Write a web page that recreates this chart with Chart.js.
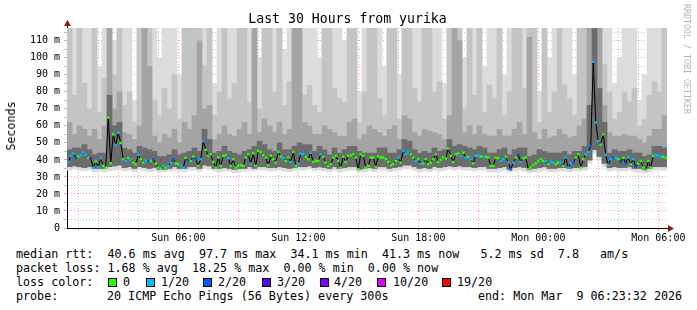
<!DOCTYPE html>
<html>
<head>
<meta charset="utf-8">
<script src="https://cdn.jsdelivr.net/npm/chart.js@4/dist/chart.umd.min.js"></script>
<style>
  body { margin: 0; background: #fff; }
  #wrap { position: relative; width: 697px; height: 310px; font-family: "DejaVu Sans Mono", monospace; color: #000; overflow: hidden; }
  canvas { position: absolute; left: 0; top: 0; }
  .t { position: absolute; white-space: pre; font-size: 11.7px; line-height: 14px; }
  .box { position: absolute; width: 9px; height: 9px; box-sizing: border-box; border: 1px solid #000; top: 278px; }
  #title { position: absolute; left: -1px; top: 11px; width: 697px; text-align: center; font-size: 13.2px; line-height: 16px; white-space: pre; }
  #ylab { position: absolute; left: 11px; top: 126px; font-size: 11.7px; line-height: 14px; transform: translate(-50%, -50%) rotate(-90deg); white-space: pre; }
  #brand { position: absolute; left: 682px; top: 4px; writing-mode: vertical-rl; font-size: 8.3px; line-height: 10px; color: #b4b4b4; white-space: pre; }
</style>
</head>
<body>
<div id="wrap">
  <canvas id="smoke" width="697" height="245"></canvas>
  <div id="title">Last 30 Hours from yurika</div>
  <div id="ylab">Seconds</div>
  <div id="brand">RRDTOOL / TOBI OETIKER</div>
  <div class="t" style="left:16px;top:247px">median rtt:  40.6 ms avg  97.7 ms max  34.1 ms min  41.3 ms now   5.2 ms sd  7.8   am/s</div>
  <div class="t" style="left:16px;top:261px">packet loss: 1.68 % avg  18.25 % max  0.00 % min  0.00 % now</div>
  <div class="t" style="left:16px;top:275px">loss color:</div>
  <div id="lossLegend"></div>
  <div class="t" style="left:16px;top:289px">probe:</div>
  <div class="t" style="left:107px;top:289px">20 ICMP Echo Pings (56 Bytes) every 300s</div>
  <div class="t" style="left:478px;top:289px">end: Mon Mar  9 06:23:32 2026</div>
</div>
<script>
// hours since Sun 00:00; smoke bins are 15 min, median samples 7.5 min
const xMin = 26 / 60;
const xMax = 30 + 26 / 60;
const binHours = 0.25;

// median rtt (ms), two samples per smoke bin
const medianRtt = [
  38.8, 42.4, 43.7, 41, 42, 42.7, 44.3, 43, 41.2, 40.8, 35.5, 39, 35.7, 41, 36.5, 35.5, 64.9, 38, 55, 48.8,
  56, 50, 40.4, 39.4, 41, 40.2, 38.4, 37.5, 43, 40.4, 38.4, 39.6, 39.4, 39.4, 40.4, 37.8, 35.5, 34.9, 36.5, 35.5,
  36.5, 38.4, 40.4, 38, 37.5, 36.5, 35.5, 41.2, 39.4, 39.4, 42, 40.4, 36.5, 40.4, 51, 45.9, 42.4, 43.3, 38.8, 35.5,
  41.4, 36.5, 42.4, 42.7, 41, 36.5, 40.4, 35.5, 36.5, 36.9, 36.5, 41.4, 43.3, 37.8, 43.9, 36.5, 45.3, 44.7, 42.9, 41.4,
  36.9, 42.4, 40.4, 38.4, 44.7, 42, 41, 39.4, 41.4, 38.8, 44.7, 36.5, 37.8, 43.7, 43.3, 41.8, 40.4, 44.3, 38.8, 39.4,
  39.4, 43.3, 41.8, 38.4, 36.5, 37.5, 41.4, 42.4, 39.4, 35.5, 41.8, 38.8, 42.4, 42.7, 43.3, 41.4, 34.5, 43.3, 42.4, 35.5,
  36.5, 41.4, 41.4, 35.9, 42, 41.4, 41.4, 40.4, 38.8, 36.9, 37.5, 39.4, 41.2, 38.4, 45.3, 43.7, 44.7, 43.3, 41.4, 39.4,
  40.4, 37.5, 38, 40.4, 37.5, 38.4, 40.4, 43.3, 38.8, 40, 41.4, 40.8, 46.7, 42.4, 38.8, 43.3, 43.7, 42.4, 44.3, 41.4,
  41.8, 40.4, 38, 42.4, 42.4, 42, 41.8, 41.8, 41.4, 36.5, 36.5, 41.2, 41, 39.4, 40.4, 41.8, 38.4, 34.5, 38.4, 41.4,
  43.3, 38.8, 41, 41.4, 34.5, 35.5, 36.9, 38, 39.4, 40.4, 39.4, 39.4, 37.5, 38.8, 38.4, 37.5, 38.4, 38.4, 36.5, 41.4,
  35.5, 38, 38.4, 41.4, 43.3, 35.5, 40.4, 43.3, 44.7, 48.2, 97.7, 62, 51, 49, 55, 43, 37.1, 40.4, 41.2, 41.2,
  40.4, 38.4, 41.2, 38, 41.4, 37.5, 40.4, 35.9, 37.8, 39.4, 35.5, 34.1, 39.4, 35.5, 42.4, 42.7, 42.7, 42, 41.8, 41.3
];

// lost pings out of 20 for each median sample
const lossCount = [
  1, 1, 1, 2, 0, 1, 1, 1, 0, 3, 1, 0, 1, 1, 0, 0, 0, 0, 0, 1,
  1, 0, 0, 1, 0, 1, 0, 0, 1, 0, 0, 1, 2, 0, 2, 0, 0, 0, 1, 0,
  1, 1, 2, 0, 0, 1, 1, 0, 2, 0, 0, 2, 0, 1, 1, 0, 0, 0, 0, 0,
  0, 0, 0, 0, 1, 0, 0, 0, 0, 0, 0, 0, 0, 1, 0, 0, 0, 0, 0, 0,
  0, 0, 0, 0, 0, 0, 1, 0, 0, 1, 0, 0, 1, 1, 1, 0, 0, 1, 0, 0,
  0, 1, 0, 0, 0, 0, 0, 0, 0, 0, 0, 0, 0, 0, 0, 0, 0, 0, 0, 0,
  0, 0, 0, 0, 0, 0, 0, 0, 0, 0, 0, 0, 1, 0, 1, 1, 1, 0, 0, 1,
  0, 1, 0, 0, 0, 0, 0, 0, 0, 0, 0, 0, 0, 0, 0, 0, 0, 1, 0, 1,
  0, 1, 0, 1, 1, 0, 1, 0, 0, 0, 0, 0, 0, 1, 1, 0, 1, 2, 1, 0,
  2, 1, 0, 0, 0, 0, 0, 0, 0, 0, 0, 1, 0, 1, 1, 0, 0, 1, 0, 1,
  1, 1, 2, 0, 0, 0, 0, 1, 1, 2, 1, 1, 1, 0, 0, 1, 1, 1, 2, 1,
  0, 2, 0, 2, 1, 0, 1, 2, 0, 0, 0, 0, 0, 0, 0, 1, 1, 1, 0, 0
];

// smoke per 15 min bin: lowest ping, lower quartile, then the tops of the grey layers
const lowPing = [
  34, 34.5, 34, 33.5, 34, 33, 33.5, 33, 33.5, 34,
  34.5, 33.5, 34, 33, 34, 33.5, 33, 33.5, 33, 33,
  33.5, 34, 33.5, 33, 34, 34, 33.5, 35, 34.5, 33.5,
  33, 33.5, 33.5, 32.5, 33, 33.5, 34, 33.5, 34, 34,
  33.5, 33.5, 34, 33.5, 33, 33.5, 34, 34, 34.5, 33.5,
  34, 33.5, 33, 34, 33, 33.5, 34, 34, 33, 33,
  33.5, 33, 34, 34, 33, 33.5, 34, 35, 35, 34,
  33, 33.5, 33, 34, 33.5, 34, 34.5, 34, 34.5, 34,
  34, 33.5, 34, 34, 33, 33, 33.5, 34, 33, 33.5,
  34, 33.5, 32.5, 33, 33.5, 34, 33, 33, 33.5, 33.5,
  33, 33.5, 33.5, 34, 38, 44, 40, 36, 33.5, 34,
  33.5, 33.5, 34, 33, 33, 32.5, 33, 34, 34, 34
];
const lowQuart = [
  36, 36.5, 36, 35.5, 36, 35, 35, 35, 36, 36.5,
  37, 35.5, 36, 35, 36, 35.5, 35, 35.5, 34.5, 34.5,
  35, 36, 35, 35, 36, 36, 35, 37, 36.5, 35,
  35, 35.5, 35, 34.5, 35, 35, 36, 35, 36, 36,
  35.5, 35.5, 36, 35.5, 35, 35.5, 36, 36, 36.5, 35.5,
  36, 35.5, 35, 36, 35, 35.5, 36, 36, 34.5, 35,
  35.5, 35, 36, 36, 35, 35.5, 36, 37, 37, 36,
  35, 35.5, 35, 36, 35.5, 36, 36.5, 36, 36.5, 36,
  36, 35.5, 36, 36, 35, 35, 35.5, 36, 34.5, 35.5,
  36, 35.5, 34.5, 35, 35.5, 36, 35, 35, 35.5, 35.5,
  35, 35.5, 35.5, 36, 40, 46, 42, 38, 35.5, 36,
  35.5, 35.5, 36, 35, 35, 34.5, 35, 36, 36, 36
];
const smokeTop = [
  120, 120, 120, 120, 120, 120, 95, 120, 120, 110,
  120, 120, 120, 75, 120, 120, 120, 120, 100, 120,
  120, 120, 90, 120, 120, 120, 120, 120, 120, 85,
  120, 120, 120, 120, 120, 120, 120, 120, 100, 120,
  120, 120, 120, 105, 120, 120, 120, 120, 120, 120,
  100, 120, 120, 120, 120, 110, 120, 120, 80, 120,
  120, 120, 120, 95, 120, 120, 90, 120, 120, 120,
  120, 120, 120, 120, 120, 85, 120, 120, 120, 100,
  120, 120, 120, 95, 120, 120, 120, 90, 120, 120,
  120, 120, 120, 120, 80, 120, 100, 120, 120, 120,
  120, 90, 120, 120, 120, 120, 120, 120, 120, 85,
  100, 120, 120, 120, 75, 90, 120, 120, 120, 120
];
const smokeUpper = [
  120, 78, 120, 85, 70, 120, 68, 88, 120, 90,
  120, 72, 80, 62, 120, 120, 120, 75, 66, 82,
  70, 90, 64, 120, 120, 120, 120, 95, 120, 66,
  80, 120, 76, 85, 120, 120, 74, 120, 70, 120,
  120, 80, 120, 72, 86, 120, 120, 78, 84, 72,
  68, 120, 120, 82, 76, 74, 120, 120, 62, 80,
  120, 120, 76, 66, 120, 120, 64, 120, 120, 82,
  74, 120, 120, 80, 86, 64, 120, 120, 120, 70,
  120, 78, 120, 68, 84, 76, 120, 66, 80, 120,
  120, 82, 120, 120, 62, 120, 68, 80, 120, 84,
  76, 66, 120, 120, 120, 120, 120, 96, 80, 64,
  68, 80, 74, 82, 60, 64, 78, 86, 80, 120
];
const smokeInner = [
  62, 55, 60, 58, 54, 58, 52, 60, 120, 70,
  80, 56, 55, 52, 60, 120, 95, 54, 50, 55,
  53, 58, 50, 62, 58, 66, 110, 70, 72, 52,
  55, 60, 55, 54, 58, 62, 55, 118, 56, 64,
  60, 56, 62, 55, 58, 120, 120, 62, 60, 55,
  55, 60, 58, 56, 54, 54, 62, 64, 52, 55,
  60, 58, 56, 54, 58, 60, 52, 66, 64, 56,
  54, 58, 57, 56, 55, 52, 66, 120, 110, 56,
  60, 55, 60, 55, 54, 54, 58, 54, 54, 58,
  62, 55, 112, 56, 52, 58, 53, 54, 58, 55,
  53, 54, 60, 64, 120, 120, 120, 72, 56, 54,
  54, 55, 54, 54, 52, 50, 54, 58, 58, 66
];
const smokeCore = [
  46, 47, 47, 49, 46, 43, 44, 44, 78, 60,
  62, 47, 46, 44, 48, 47, 46, 45, 42, 42,
  43, 46, 43, 44, 45, 47, 45, 58, 52, 44,
  45, 48, 45, 44, 43, 45, 46, 48, 51, 49,
  46, 45, 50, 46, 46, 48, 50, 49, 49, 45,
  48, 46, 43, 47, 44, 46, 48, 48, 45, 44,
  44, 44, 47, 47, 44, 44, 46, 52, 51, 46,
  44, 45, 44, 47, 45, 46, 52, 48, 49, 48,
  47, 46, 48, 47, 44, 44, 46, 47, 43, 46,
  47, 47, 42, 43, 46, 45, 44, 44, 44, 45,
  43, 45, 45, 48, 72, 120, 82, 62, 44, 46,
  45, 45, 46, 44, 44, 42, 43, 48, 48, 47
];

const tickHours = [6, 12, 18, 24, 30];
const tickNames = ["Sun 06:00", "Sun 12:00", "Sun 18:00", "Mon 00:00", "Mon 06:00"];

const lossSteps = [0, 1, 2, 3, 4, 10, 19];
const lossNames = ["0", "1/20", "2/20", "3/20", "4/20", "10/20", "19/20"];
const lossColors = ["#26ff00", "#00b8ff", "#0059ff", "#5e00ff", "#7e00ff", "#dd00ff", "#ff0000"];

// legend boxes under the chart
const boxLeft = [108, 146, 203, 262, 320, 377, 442];
const nameLeft = [123, 161, 218, 277, 334, 393, 457];
const lossLegend = document.getElementById("lossLegend");
lossNames.forEach(function (name, i) {
  const box = document.createElement("div");
  box.className = "box";
  box.style.left = boxLeft[i] + "px";
  box.style.background = lossColors[i];
  lossLegend.appendChild(box);
  const txt = document.createElement("div");
  txt.className = "t";
  txt.style.left = nameLeft[i] + "px";
  txt.style.top = "275px";
  txt.textContent = name;
  lossLegend.appendChild(txt);
});

function lossColor(n) {
  let c = lossColors[0];
  lossSteps.forEach(function (s, i) { if (n >= s) c = lossColors[i]; });
  return c;
}

const binTimes = smokeTop.map(function (_, i) { return xMin + binHours / 2 + i * binHours; });
const medianTimes = medianRtt.map(function (_, j) { return xMin + binHours / 4 + j * binHours / 2; });

function smokeLayer(bottoms, tops, color, order) {
  return {
    type: "bar",
    data: binTimes.map(function (t, i) { return { x: t, y: [bottoms[i], tops[i]] }; }),
    backgroundColor: color,
    borderWidth: 0,
    grouped: false,
    barPercentage: 1,
    categoryPercentage: 1,
    order: order,
  };
}

function gridColor(ctx, major) {
  const v = ctx.tick ? ctx.tick.value : 0;
  return Math.abs(v % major) < 1e-6 ? "rgba(255, 0, 0, 0.38)" : "rgba(130, 130, 130, 0.5)";
}

const hourTicks = [];
for (let h = 1; h <= 30; h++) hourTicks.push(h);

// axis arrows like rrdtool draws them
const axisArrows = {
  id: "axisArrows",
  afterDraw(chart) {
    const ctx = chart.ctx;
    const a = chart.chartArea;
    ctx.save();
    ctx.strokeStyle = "#000";
    ctx.lineWidth = 1;
    ctx.beginPath();
    ctx.moveTo(a.left + 0.5, a.top);
    ctx.lineTo(a.left + 0.5, a.top - 4);
    ctx.moveTo(a.right, a.bottom + 0.5);
    ctx.lineTo(a.right + 2, a.bottom + 0.5);
    ctx.stroke();
    ctx.fillStyle = "#8b1a1a";
    ctx.beginPath();
    ctx.moveTo(a.left + 0.5, a.top - 8);
    ctx.lineTo(a.left - 3, a.top - 2);
    ctx.lineTo(a.left + 4, a.top - 2);
    ctx.closePath();
    ctx.fill();
    ctx.beginPath();
    ctx.moveTo(a.right + 7, a.bottom + 0.5);
    ctx.lineTo(a.right + 1, a.bottom - 3);
    ctx.lineTo(a.right + 1, a.bottom + 4);
    ctx.closePath();
    ctx.fill();
    ctx.restore();
  },
};

const tickFont = { family: "DejaVu Sans Mono", size: 10 };

new Chart(document.getElementById("smoke").getContext("2d"), {
  type: "bar",
  data: {
    datasets: [
      smokeLayer(lowPing, smokeTop, "#dcdcdc", 5),
      smokeLayer(lowQuart, smokeUpper, "#c4c4c4", 4),
      smokeLayer(lowQuart, smokeInner, "#a4a4a4", 3),
      smokeLayer(lowQuart, smokeCore, "#6c6c6c", 2),
      {
        type: "line",
        data: medianTimes.map(function (t, j) { return { x: t, y: medianRtt[j] }; }),
        borderColor: "#000",
        borderWidth: 1,
        pointStyle: "rect",
        pointRadius: 1.8,
        pointBorderWidth: 0,
        pointBackgroundColor: lossCount.map(lossColor),
        order: 0,
      },
    ],
  },
  options: {
    responsive: false,
    animation: false,
    layout: { padding: { left: 0, top: 28, right: 30, bottom: 0 } },
    plugins: { legend: { display: false }, tooltip: { enabled: false }, title: { display: false } },
    scales: {
      x: {
        type: "linear",
        min: xMin,
        max: xMax,
        offset: false,
        z: 1,
        afterBuildTicks: function (s) { s.ticks = hourTicks.map(function (h) { return { value: h }; }); },
        afterFit: function (s) { s.height = 17; },
        ticks: {
          autoSkip: false,
          maxRotation: 0,
          padding: 1,
          color: "#000",
          font: tickFont,
          callback: function (v) {
            const k = tickHours.indexOf(v);
            return k < 0 ? "" : tickNames[k];
          },
        },
        grid: { color: function (c) { return gridColor(c, 3); }, tickLength: 3, lineWidth: 1, offset: false },
        border: { color: "#000", width: 1, dash: [1, 2] },
      },
      y: {
        min: 0,
        max: 117.5,
        z: 1,
        afterFit: function (s) { s.width = 67; },
        ticks: {
          stepSize: 5,
          includeBounds: false,
          autoSkip: false,
          padding: 4,
          color: "#000",
          font: tickFont,
          callback: function (v) {
            if (v % 10 !== 0) return "";
            return v === 0 ? "0" : v + " m";
          },
        },
        grid: { color: function (c) { return gridColor(c, 10); }, tickLength: 3, lineWidth: 1 },
        border: { color: "#000", width: 1, dash: [1, 2] },
      },
    },
  },
  plugins: [axisArrows],
});
</script>
</body>
</html>
